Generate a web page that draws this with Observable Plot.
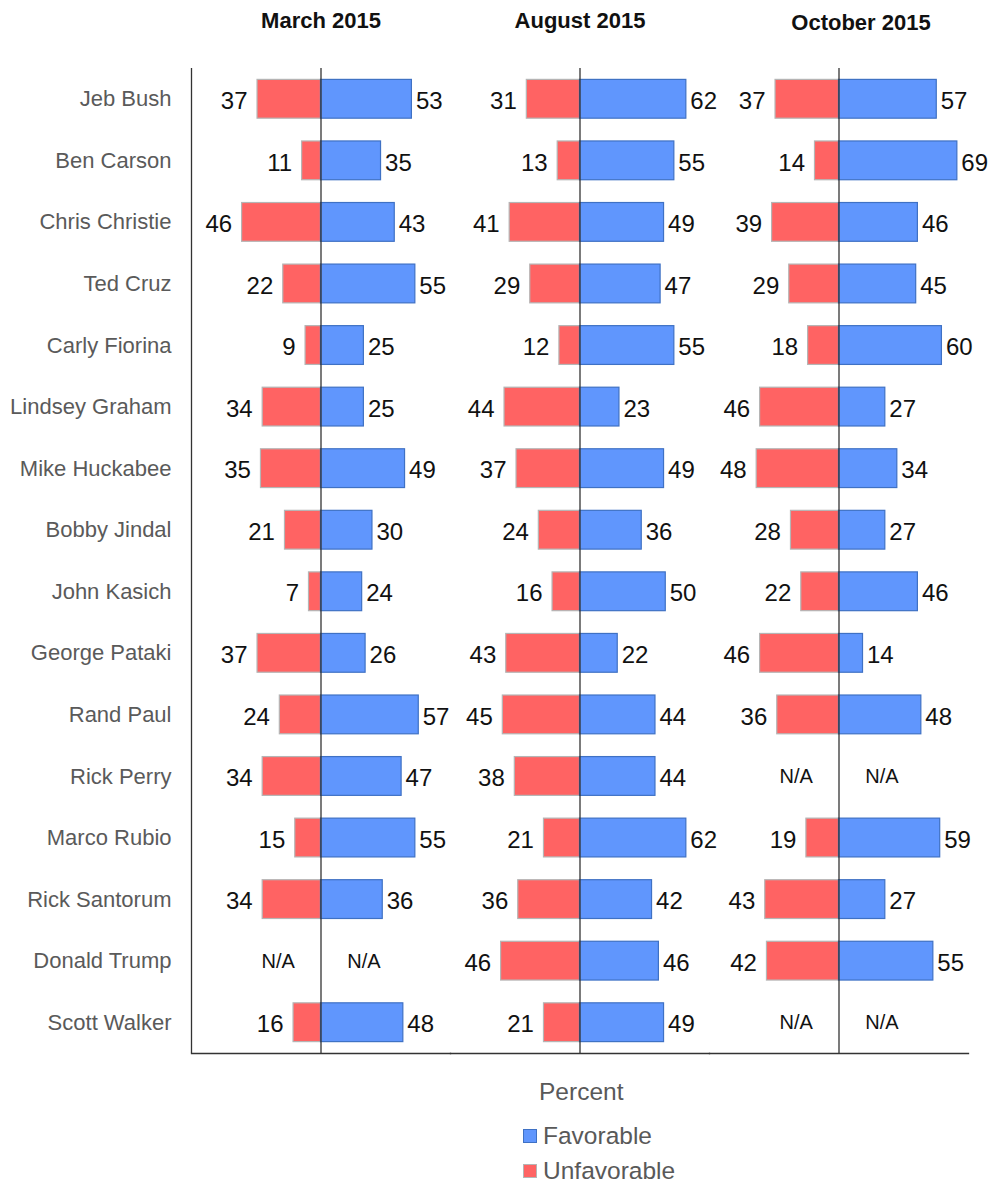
<!DOCTYPE html>
<html>
<head>
<meta charset="utf-8">
<script src="https://cdn.jsdelivr.net/npm/d3@7"></script>
<script src="https://cdn.jsdelivr.net/npm/@observablehq/plot@0.6"></script>
<style>
  body { margin: 0; background: #fff; font-family: "Liberation Sans", Arial, sans-serif; }
  #wrap { position: relative; width: 993px; height: 1186px; }
  #legend div { position: absolute; font-size: 24.5px; line-height: 28px; color: #595959; white-space: nowrap; }
  .sw { position: absolute; width: 14px; height: 14px; box-sizing: border-box; }
</style>
</head>
<body>
<div id="wrap">
  <div id="chart"></div>
  <div id="legend"></div>
</div>
<script>
const names = ["Jeb Bush","Ben Carson","Chris Christie","Ted Cruz","Carly Fiorina","Lindsey Graham","Mike Huckabee","Bobby Jindal","John Kasich","George Pataki","Rand Paul","Rick Perry","Marco Rubio","Rick Santorum","Donald Trump","Scott Walker"];
const panels = ["March 2015","August 2015","October 2015"];
const favMarch   = [53,35,43,55,25,25,49,30,24,26,57,47,55,36,null,48];
const unfavMarch = [37,11,46,22, 9,34,35,21, 7,37,24,34,15,34,null,16];
const favAug     = [62,55,49,47,55,23,49,36,50,22,44,44,62,42,46,49];
const unfavAug   = [31,13,41,29,12,44,37,24,16,43,45,38,21,36,46,21];
const favOct     = [57,69,46,45,60,27,34,27,46,14,48,null,59,27,55,null];
const unfavOct   = [37,14,39,29,18,46,48,28,22,46,36,null,19,43,42,null];
const seriesLabels = ["Favorable","Unfavorable"];
const naLabel = "N/A";

const favs = [favMarch, favAug, favOct];
const unfavs = [unfavMarch, unfavAug, unfavOct];
const rows = panels.flatMap((p, i) => names.map((n, j) => ({panel: p, name: n, fav: favs[i][j], unfav: unfavs[i][j]})));
const valid = rows.filter(d => d.fav != null);
const missing = rows.filter(d => d.fav == null);

const BLUE = "#6096fd", BLUE_S = "#3f71c4", RED = "#ff6363", RED_S = "#b5b5b5";
const FONT = "Liberation Sans, Arial, sans-serif";
const xmin = -75.5, xmax = 75.5;

const titleMark = (p, dx, dy) => Plot.text([p], {fx: d => d, text: d => d, frameAnchor: "top", dx, dy, fontWeight: "bold", fontSize: 22, fill: "#111", lineAnchor: "middle"});

const chart = Plot.plot({
  width: 993,
  height: 1060,
  marginTop: 68,
  marginBottom: 7,
  marginLeft: 190,
  marginRight: 25,
  style: {fontFamily: FONT, fontSize: "22px", color: "#5a5a5a", background: "#fff"},
  fx: {domain: panels, padding: 0, axis: null},
  x: {domain: [xmin, xmax], axis: null},
  y: {domain: names, paddingInner: 0.37, paddingOuter: 0.185, round: false, tickSize: 0, tickPadding: 20, label: null},
  marks: [
    Plot.barX(valid, {fx: "panel", y: "name", x1: d => -d.unfav, x2: 0, fill: RED, stroke: RED_S, strokeWidth: 1.2}),
    Plot.barX(valid, {fx: "panel", y: "name", x1: 0, x2: "fav", fill: BLUE, stroke: BLUE_S, strokeWidth: 1.2}),
    Plot.ruleX([0], {stroke: "#333", strokeWidth: 1.3}),
    Plot.ruleX([panels[0]], {fx: d => d, x: () => xmin, stroke: "#333", strokeWidth: 1.3}),
    Plot.frame({anchor: "bottom", stroke: "#333", strokeWidth: 1.3}),
    Plot.text(valid, {fx: "panel", y: "name", x: "fav", text: d => String(d.fav), textAnchor: "start", dx: 4, dy: 2, fontSize: 24, fill: "#111"}),
    Plot.text(valid, {fx: "panel", y: "name", x: d => -d.unfav, text: d => String(d.unfav), textAnchor: "end", dx: -10, dy: 2, fontSize: 24, fill: "#111"}),
    Plot.text(missing, {fx: "panel", y: "name", x: () => -25, text: () => naLabel, textAnchor: "middle", fontSize: 20, fill: "#111"}),
    Plot.text(missing, {fx: "panel", y: "name", x: () => 25, text: () => naLabel, textAnchor: "middle", fontSize: 20, fill: "#111"}),
    titleMark(panels[0], 0, -48),
    titleMark(panels[1], 0, -48),
    titleMark(panels[2], 22, -46)
  ]
});
document.getElementById("chart").appendChild(chart);

// legend
const legend = document.getElementById("legend");
const title = document.createElement("div");
title.textContent = "Percent";
title.style.left = "539px";
title.style.top = "1078px";
legend.appendChild(title);
[[seriesLabels[0], BLUE, BLUE_S, 1122], [seriesLabels[1], RED, RED_S, 1157]].forEach(([lab, fill, stroke, top]) => {
  const sw = document.createElement("span");
  sw.className = "sw";
  sw.style.left = "523px";
  sw.style.top = (top + 7) + "px";
  sw.style.background = fill;
  sw.style.border = "1px solid " + stroke;
  legend.appendChild(sw);
  const t = document.createElement("div");
  t.textContent = lab;
  t.style.left = "543px";
  t.style.top = top + "px";
  legend.appendChild(t);
});
</script>
</body>
</html>
